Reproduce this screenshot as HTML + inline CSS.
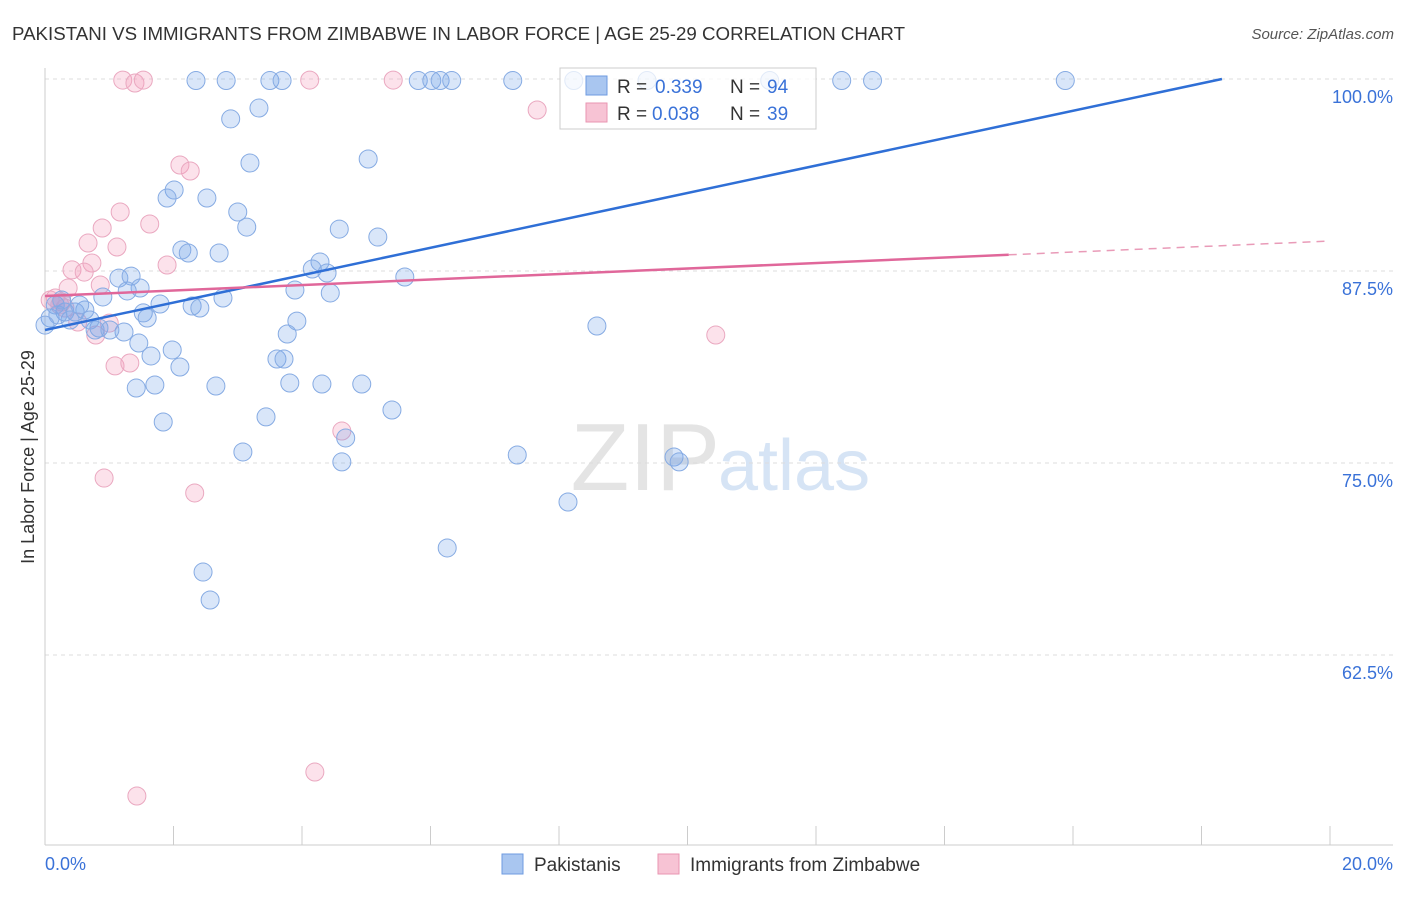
<!DOCTYPE html>
<html><head><meta charset="utf-8"><style>
body{margin:0;background:#fff;font-family:"Liberation Sans",sans-serif;}
svg text{font-family:"Liberation Sans",sans-serif;}
</style></head><body>
<svg id="chart" width="1406" height="892">
<text x="12" y="40" font-size="18" fill="#333" textLength="893" lengthAdjust="spacingAndGlyphs">PAKISTANI VS IMMIGRANTS FROM ZIMBABWE IN LABOR FORCE | AGE 25-29 CORRELATION CHART</text>
<text x="1394" y="39" font-size="15" fill="#555" font-style="italic" text-anchor="end">Source: ZipAtlas.com</text>
<text x="720" y="490" font-size="96" fill="#e4e4e4" text-anchor="end" font-family="Liberation Serif">ZIP</text>
<text x="718" y="490" font-size="72" fill="#d6e4f5">atlas</text>
<text transform="translate(34,457) rotate(-90)" font-size="18" fill="#333" text-anchor="middle">In Labor Force | Age 25-29</text>
<g id="grid"></g><g id="marks"></g>
<g>
<rect x="560" y="68" width="256" height="61" fill="#fff" fill-opacity="0.75" stroke="#ccc"/>
<rect x="586" y="76" width="21" height="19" fill="#a9c6f0" stroke="#6e9be0"/>
<text x="617" y="93" font-size="19" fill="#333">R =</text>
<text x="655" y="93" font-size="19" fill="#3a72d8">0.339</text>
<text x="730" y="93" font-size="19" fill="#333">N =</text>
<text x="767" y="93" font-size="19" fill="#3a72d8">94</text>
<rect x="586" y="103" width="21" height="19" fill="#f7c3d4" stroke="#e996b2"/>
<text x="617" y="120" font-size="19" fill="#333">R =</text>
<text x="652" y="120" font-size="19" fill="#3a72d8">0.038</text>
<text x="730" y="120" font-size="19" fill="#333">N =</text>
<text x="767" y="120" font-size="19" fill="#3a72d8">39</text>
</g>
<g>
<rect x="502" y="854" width="21" height="20" fill="#a9c6f0" stroke="#6e9be0"/>
<text x="534" y="871" font-size="19" fill="#333">Pakistanis</text>
<rect x="658" y="854" width="21" height="20" fill="#f7c3d4" stroke="#e996b2"/>
<text x="690" y="871" font-size="19" fill="#333">Immigrants from Zimbabwe</text>
</g>
</svg>
<script>
const blueX=[2.35,2.82,3.50,3.69,5.81,6.02,6.15,6.33,7.28,8.23,11.28,12.40,12.88,15.88,2.89,3.33,3.19,5.03,2.01,1.90,2.52,3.00,3.14,4.58,5.18,2.13,2.23,2.71,4.28,4.16,4.39,5.60,1.15,1.34,1.48,1.28,3.89,4.44,0.90,2.77,1.79,2.29,2.41,0.62,0.47,0.31,0.16,1.53,1.59,3.92,3.77,1.23,0.84,0.78,1.01,0.39,0.08,0.20,1.46,8.59,1.98,1.65,2.10,3.61,3.72,1.42,1.71,2.66,3.81,4.31,4.93,5.40,3.44,1.84,4.68,3.08,4.62,7.35,9.79,9.87,8.14,6.26,2.46,2.57,0.54,0.26,0.70,0.00,9.37];
const blueY=[99.9,99.9,99.9,99.9,99.9,99.9,99.9,99.9,99.9,99.9,99.9,99.9,99.9,99.9,97.40,98.11,94.53,94.79,92.77,92.25,92.25,91.34,90.36,90.23,89.71,88.87,88.67,88.67,88.09,87.63,87.37,87.11,87.04,87.17,86.39,86.20,86.26,86.07,85.81,85.74,85.35,85.22,85.09,84.96,84.83,84.83,85.29,84.77,84.44,84.24,83.40,83.53,83.79,83.66,83.66,84.31,84.44,84.64,82.81,83.92,82.36,81.97,81.25,81.77,81.77,79.88,80.08,80.01,80.21,80.14,80.14,78.45,78.00,77.67,76.63,75.72,75.07,75.52,75.39,75.07,72.46,69.47,67.90,66.08,85.29,85.61,84.31,83.98,99.9];
const pinkX=[1.21,1.40,1.53,4.12,5.42,7.66,2.10,2.26,1.17,1.63,0.89,1.12,0.67,1.90,0.73,0.42,0.61,0.86,0.36,0.16,0.26,0.31,0.51,0.79,1.00,1.09,1.32,10.44,4.62,0.92,2.33,4.20,1.43,0.08,0.23];
const pinkY=[99.93,99.74,99.93,99.93,99.93,97.98,94.40,94.01,91.34,90.56,90.30,89.06,89.32,87.89,88.02,87.57,87.43,86.59,86.39,85.74,85.48,85.09,84.18,83.33,84.11,81.32,81.51,83.33,77.08,74.02,73.05,54.88,53.32,85.61,85.29];
const yTicks=[100,87.5,75,62.5];
const xTickLabels=["0.0%","20.0%"];
const blueTrend=[83.66,0.892];
const pinkTrend=[85.87,0.179];
const sx=v=>45+v*64.25, sy=v=>79+(100-v)*15.36;
const NS="http://www.w3.org/2000/svg";
function mk(t,a,p){const e=document.createElementNS(NS,t);for(const k in a)e.setAttribute(k,a[k]);p.appendChild(e);return e;}
const g=document.getElementById('grid'), m=document.getElementById('marks');
yTicks.forEach(t=>{
 const l=mk('line',{x1:45,x2:1393,y1:sy(t),y2:sy(t),stroke:'#ddd','stroke-dasharray':'4,4'},g);
 
 
 const tx=mk('text',{x:1393,y:sy(t)+24,'font-size':18,fill:'#3a72d8','text-anchor':'end'},g);
 tx.textContent=t.toFixed(1)+'%';
 
 
});
mk('line',{x1:45,x2:45,y1:68,y2:845,stroke:'#ccc'},g);
mk('line',{x1:45,x2:1393,y1:845,y2:845,stroke:'#ccc'},g);
for(let i=0;i<=10;i++){const t=mk('line',{x1:sx(i*2),x2:sx(i*2),y1:826,y2:845,stroke:'#ccc'},g);
 
 }
[[0,'start',45],[1,'end',1393]].forEach(([i,a,x])=>{const t=mk('text',{x:x,y:870,'font-size':18,fill:'#3a72d8','text-anchor':a},g);t.textContent=xTickLabels[i];
 
 });
function pts(X,Y,fill,stroke,name){X.forEach((x,i)=>{const c=mk('circle',{cx:sx(x),cy:sy(Y[i]),r:9,fill:fill,stroke:stroke,'stroke-width':1},m);
 
 });}
pts(pinkX,pinkY,'rgba(244,160,188,0.3)','#eaa8c0','zimbabwe-point');
pts(blueX,blueY,'rgba(120,165,235,0.28)','#86abe3','pakistani-point');
const bxEnd=(100-blueTrend[0])/blueTrend[1];
const bl=mk('line',{x1:sx(0),y1:sy(blueTrend[0]),x2:sx(bxEnd),y2:sy(100),stroke:'#2f6fd6','stroke-width':2.5},m);


const pl=mk('line',{x1:sx(0),y1:sy(pinkTrend[0]),x2:sx(15),y2:sy(pinkTrend[0]+15*pinkTrend[1]),stroke:'#e0679a','stroke-width':2.5},m);


const pd=mk('line',{x1:sx(15),y1:sy(pinkTrend[0]+15*pinkTrend[1]),x2:sx(20),y2:sy(pinkTrend[0]+20*pinkTrend[1]),stroke:'#e99bb8','stroke-width':1.5,'stroke-dasharray':'8,6'},m);


</script>
</body></html>
